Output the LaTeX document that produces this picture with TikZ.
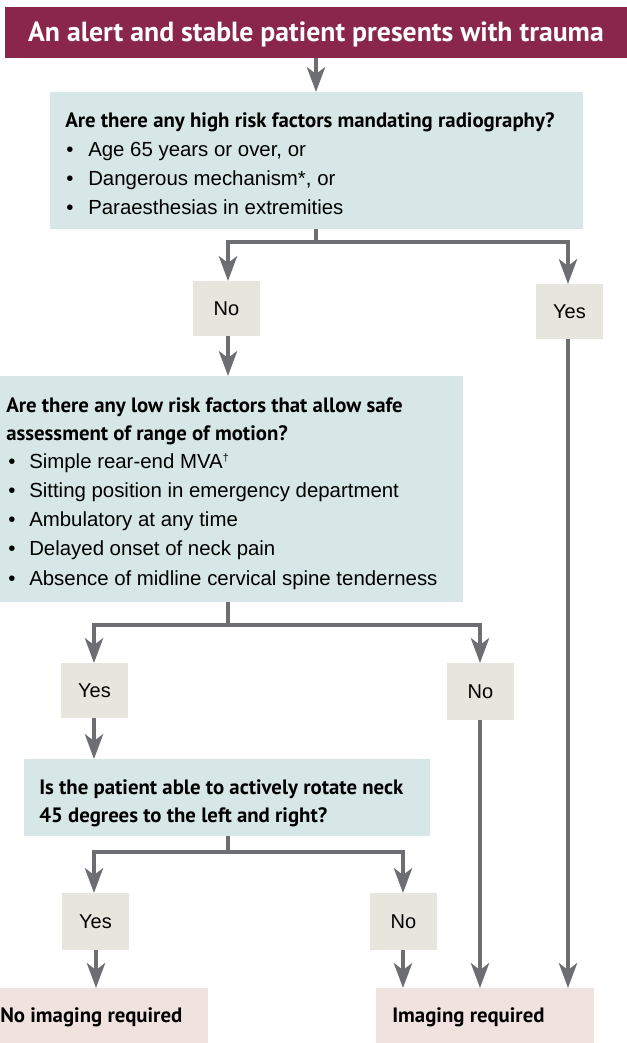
\documentclass[tikz,border=0pt]{standalone}
\usepackage{fontspec}
\setmainfont{Liberation Sans}
\newfontfamily\qfont{PT Sans}
\usetikzlibrary{arrows.meta,fit,positioning}
\definecolor{maroon}{HTML}{8A2649}
\definecolor{qbox}{HTML}{D7E6E6}
\definecolor{abox}{HTML}{E6E6DE}
\definecolor{fbox}{HTML}{F0E2DE}
\definecolor{arrgray}{HTML}{6D6E71}
\begin{document}
\begin{tikzpicture}[x=0.75pt,y=-0.75pt,
  area/.style={inner sep=0pt, outer sep=0pt},
  qarea/.style={area, fill=qbox},
  aarea/.style={area, fill=abox, font=\fontsize{15pt}{17pt}\selectfont},
  farea/.style={area, fill=fbox},
  qtext/.style={anchor=base west, inner sep=0pt, font=\qfont\bfseries\fontsize{15.6pt}{17pt}\selectfont},
  btext/.style={anchor=base west, inner sep=0pt, font=\fontsize{15.3pt}{17pt}\selectfont},
  ln/.style={draw=arrgray, line width=3.6pt},
  arr/.style={ln, -{Stealth[length=18.5pt,width=13.5pt,inset=5pt]}}
]
\useasboundingbox (0,0) rectangle (627,1043);
% title
\node[area, fill=maroon, fit={(5,7)(627,58)}] (title) {};
\node[anchor=base, inner sep=0pt, text=white, font=\qfont\bfseries\fontsize{20.8pt}{22pt}\selectfont] (titletext) at (316,41) {An alert and stable patient presents with trauma};
% box 1
\node[qarea, fit={(50,92)(583,229)}] (b1) {};
\node[qtext] (q1) at (65,127) {Are there any high risk factors mandating radiography?};
\node[btext] (b1d1) at (66,156) {•}; \node[btext] (b1t1) at (88,156) {Age 65 years or over, or};
\node[btext] (b1d2) at (66,185) {•}; \node[btext] (b1t2) at (88,185) {Dangerous mechanism*, or};
\node[btext] (b1d3) at (66,214) {•}; \node[btext] (b1t3) at (88,214) {Paraesthesias in extremities};
% answers 1
\node[aarea, fit={(193,281)(260,336)}, label={[aarea,fill=none]center:No}] (no1) {};
\node[aarea, fit={(536,284)(603,339)}, label={[aarea,fill=none]center:Yes}] (yes1) {};
% box 2
\node[qarea, fit={(0,376)(463,602)}] (b2) {};
\node[qtext] (q2a) at (6,412) {Are there any low risk factors that allow safe};
\node[qtext] (q2b) at (6,440) {assessment of range of motion?};
\node[btext] (b2d1) at (8,468) {•}; \node[btext] (b2t1) at (29,468) {Simple rear-end MVA\textsuperscript{\fontsize{8pt}{9pt}\selectfont †}};
\node[btext] (b2d2) at (8,497) {•}; \node[btext] (b2t2) at (29,497) {Sitting position in emergency department};
\node[btext] (b2d3) at (8,526) {•}; \node[btext] (b2t3) at (29,526) {Ambulatory at any time};
\node[btext] (b2d4) at (8,555) {•}; \node[btext] (b2t4) at (29,555) {Delayed onset of neck pain};
\node[btext] (b2d5) at (8,585) {•}; \node[btext] (b2t5) at (29,585) {Absence of midline cervical spine tenderness};
% answers 2
\node[aarea, fit={(61,663)(128,718)}, label={[aarea,fill=none]center:Yes}] (yes2) {};
\node[aarea, fit={(447,663)(514,720)}, label={[aarea,fill=none]center:No}] (no2) {};
% box 3
\node[qarea, fit={(24,759)(430,836)}] (b3) {};
\node[qtext] (q3a) at (39,794) {Is the patient able to actively rotate neck};
\node[qtext] (q3b) at (39,822) {45 degrees to the left and right?};
% answers 3
\node[aarea, fit={(62,893)(129,950)}, label={[aarea,fill=none]center:Yes}] (yes3) {};
\node[aarea, fit={(370,893)(437,950)}, label={[aarea,fill=none]center:No}] (no3) {};
% final
\node[farea, fit={(-10,988)(208,1043)}] (noimg) {};
\node[qtext] (noimgt) at (0,1022) {No imaging required};
\node[farea, fit={(376,988)(594,1043)}] (img) {};
\node[qtext] (imgt) at (392,1022) {Imaging required};
% connectors
\draw[arr] (title.south -| 316,0) -- (b1.north -| 316,0);
\coordinate (j1) at (316,242);
\draw[ln] (b1.south -| j1) -- (j1);
\draw[arr] (j1) -| (no1.north -| 228,0);
\draw[arr] (j1) -| (yes1.north -| 568,0);
\draw[arr] (no1.south -| 228,0) -- (b2.north -| 228,0);
\draw[arr] (yes1.south -| 568,0) -- (img.north -| 568,0);
\coordinate (j2) at (228,625);
\draw[ln] (b2.south -| j2) -- (j2);
\draw[arr] (j2) -| (yes2.north -| 94,0);
\draw[arr] (j2) -| (no2.north -| 480,0);
\draw[arr] (yes2.south -| 94,0) -- (b3.north -| 94,0);
\draw[arr] (no2.south -| 480,0) -- (img.north -| 480,0);
\coordinate (j3) at (228,852);
\draw[ln] (b3.south -| j3) -- (j3);
\draw[arr] (j3) -| (yes3.north -| 94,0);
\draw[arr] (j3) -| (no3.north -| 403,0);
\draw[arr] (yes3.south -| 96,0) -- (noimg.north -| 96,0);
\draw[arr] (no3.south -| 403,0) -- (img.north -| 403,0);
\end{tikzpicture}
\end{document}
